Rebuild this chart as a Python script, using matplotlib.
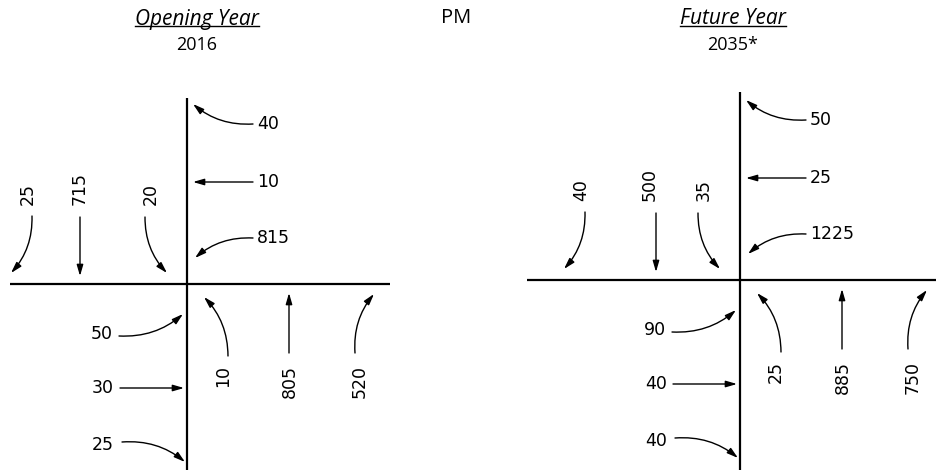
import matplotlib.pyplot as plt
from matplotlib.patches import FancyArrowPatch

# PM peak turning movement volumes
movements = ['WBR', 'WBT', 'WBL', 'SBR', 'SBT', 'SBL',
             'EBL', 'EBT', 'EBR', 'NBL', 'NBT', 'NBR']
opening_2016 = [40, 10, 815, 25, 715, 20, 50, 30, 25, 10, 805, 520]
future_2035 = [50, 25, 1225, 40, 500, 35, 90, 40, 40, 25, 885, 750]

panel_titles = ['Opening Year', 'Future Year']
panel_years = ['2016', '2035*']
peak_label = 'PM'

# arrow layout relative to intersection centre (pixels, y down):
# start, end, curvature, label position, ha, va, rotation
geom = {
    'WBR': ((66, -160), (6, -180), -0.2, (70, -160), 'left', 'center', 0),
    'WBT': ((66, -102), (6, -102), 0.0, (70, -102), 'left', 'center', 0),
    'WBL': ((66, -46), (8, -26), 0.2, (70, -46), 'left', 'center', 0),
    'SBR': ((-155, -68), (-176, -11), -0.2, (-159, -79), 'center', 'bottom', 90),
    'SBT': ((-107, -67), (-107, -8), 0.0, (-107, -79), 'center', 'bottom', 90),
    'SBL': ((-42, -67), (-20, -11), 0.2, (-36, -79), 'center', 'bottom', 90),
    'EBL': ((-68, 52), (-4, 30), 0.2, (-74, 50), 'right', 'center', 0),
    'EBT': ((-67, 104), (-3, 104), 0.0, (-73, 104), 'right', 'center', 0),
    'EBR': ((-65, 158), (-2, 178), -0.2, (-73, 161), 'right', 'center', 0),
    'NBL': ((41, 72), (17, 13), 0.2, (36, 81), 'center', 'top', 90),
    'NBT': ((102, 69), (102, 9), 0.0, (103, 81), 'center', 'top', 90),
    'NBR': ((168, 69), (187, 10), -0.2, (173, 81), 'center', 'top', 90),
}

panels = [
    dict(vols=opening_2016, cx=187, cy=284, road_x=(10, 390), road_top=98,
         title_x=197, sbt_arrow=-107, sbt_label=-107),
    dict(vols=future_2035, cx=740, cy=280, road_x=(527, 936), road_top=92,
         title_x=733, sbt_arrow=-84, sbt_label=-90),
]

fig = plt.figure(figsize=(9.36, 4.70), dpi=100)
ax = fig.add_axes([0, 0, 1, 1])
ax.set_xlim(0, 936)
ax.set_ylim(470, 0)
ax.axis('off')

num_font = dict(family='DejaVu Sans', fontsize=12.5, color='black')
title_texts = []

for i, p in enumerate(panels):
    cx, cy = p['cx'], p['cy']
    # roads
    ax.plot(p['road_x'], [cy, cy], color='black', lw=1.6, solid_capstyle='butt')
    ax.plot([cx, cx], [p['road_top'], 470], color='black', lw=1.6, solid_capstyle='butt')

    for mv, vol in zip(movements, p['vols']):
        (sx, sy), (ex, ey), rad, (lx, ly), ha, va, rot = geom[mv]
        if mv == 'SBT':
            sx = ex = p['sbt_arrow']
            lx = p['sbt_label']
        arr = FancyArrowPatch((cx + sx, cy + sy), (cx + ex, cy + ey),
                              connectionstyle=f'arc3,rad={rad}',
                              arrowstyle='-|>,head_length=0.55,head_width=0.16',
                              mutation_scale=12, lw=1.0, color='black',
                              shrinkA=0, shrinkB=0)
        ax.add_patch(arr)
        ax.text(cx + lx, cy + ly, str(vol), ha=ha, va=va, rotation=rot, **num_font)

    t = ax.text(p['title_x'], 19, panel_titles[i], ha='center', va='center',
                family='Open Sans', style='italic', fontsize=15)
    title_texts.append(t)
    ax.text(p['title_x'], 45, panel_years[i], ha='center', va='center',
            family='Open Sans', fontsize=13)

ax.text(456, 18, peak_label, ha='center', va='center', family='Open Sans',
        fontsize=14.5)

# underline the panel titles, just under the baseline
fig.canvas.draw()
inv = ax.transData.inverted()
for t in title_texts:
    bb = t.get_window_extent()
    (x0, y0), (x1, y1) = inv.transform([(bb.x0, bb.y0), (bb.x1, bb.y1)])
    ax.plot([x0, x1], [y0 - 4, y0 - 4], color='black', lw=1.0)

fig.savefig('out.png', dpi=100)
